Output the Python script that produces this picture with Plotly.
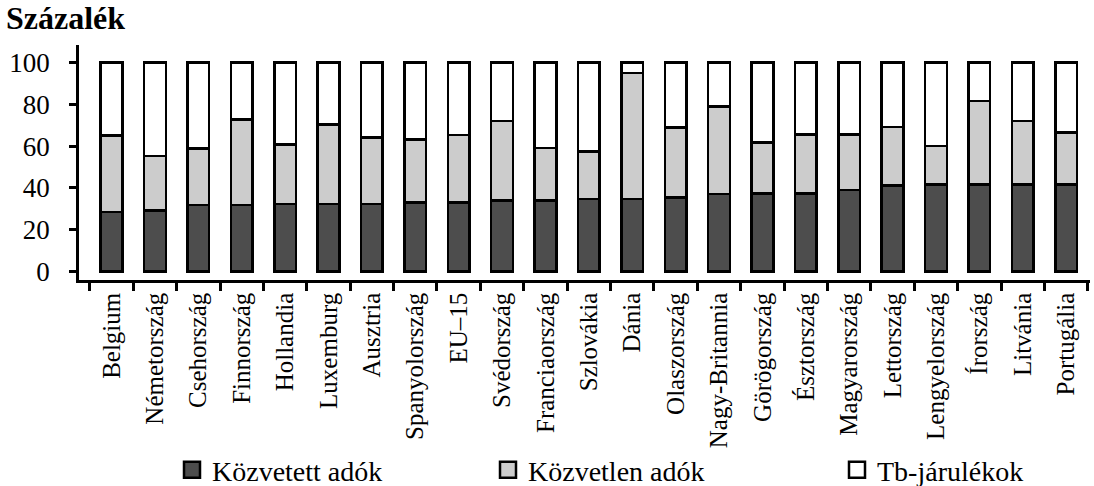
import plotly.graph_objects as go

orszagok = ["Belgium", "Németország", "Csehország", "Finnország", "Hollandia",
            "Luxemburg", "Ausztria", "Spanyolország", "EU–15", "Svédország",
            "Franciaország", "Szlovákia", "Dánia", "Olaszország", "Nagy-Britannia",
            "Görögország", "Észtország", "Magyarország", "Lettország",
            "Lengyelország", "Írország", "Litvánia", "Portugália"]

kozvetett_adok = [28.4, 29.1, 31.9, 31.9, 32.3, 32.3, 32.3, 33.1, 33.1, 34.1, 34.1, 34.7,
                  34.7, 35.5, 37.0, 37.4, 37.4, 39.0, 41.1, 41.7, 41.7, 41.7, 41.7]
kozvetlen_adok = [36.6, 26.2, 27.0, 40.9, 28.5, 38.1, 31.7, 30.1, 32.2, 37.9, 25.1, 22.6,
                  60.3, 33.3, 41.8, 24.2, 28.2, 26.6, 27.9, 18.3, 39.8, 30.3, 24.9]
tb_jarulekok = [35.0, 44.7, 41.1, 27.2, 39.2, 29.6, 36.0, 36.8, 34.7, 28.0, 40.8, 42.7,
                5.0, 31.2, 21.2, 38.4, 34.4, 34.4, 31.0, 40.0, 18.5, 28.0, 33.4]

y_ticks = [0, 20, 40, 60, 80, 100]

FONT = "Liberation Serif"
series = [
    ("Közvetett adók", kozvetett_adok, "#4d4d4d", "legend"),
    ("Közvetlen adók", kozvetlen_adok, "#cccccc", "legend2"),
    ("Tb-járulékok", tb_jarulekok, "#ffffff", "legend3"),
]

fig = go.Figure()
for name, vals, col, leg in series:
    fig.add_trace(go.Bar(
        x=orszagok, y=vals, name=name, showlegend=False,
        marker=dict(color=col, line=dict(color="black", width=2.5)),
    ))
    # legend-only marker (larger square symbol, like the reference key)
    fig.add_trace(go.Scatter(
        x=[None], y=[None], mode="markers", name=name, legend=leg,
        marker=dict(symbol="square", size=16, color=col,
                    line=dict(color="black", width=2.5)),
    ))

L, R, T, B = 79, 4, 45, 206
W, H = 1094, 486
plot_w = W - L - R
# text starts of the reference key, in pixels from the plot's left edge
key_text_px = [212 - L, 528 - L, 877 - L]
leg_common = dict(
    orientation="h", xanchor="left",
    yref="container", y=(H - 470) / H, yanchor="middle",
    font=dict(family=FONT, size=28, color="black"),
    bgcolor="rgba(0,0,0,0)", borderwidth=0,
    itemclick=False, itemdoubleclick=False, itemsizing="trace",
)

fig.update_layout(
    template="none",
    barmode="stack",
    bargap=0.5,
    width=W, height=H,
    margin=dict(l=L, r=R, t=T, b=B, autoexpand=False),
    paper_bgcolor="white", plot_bgcolor="white",
    font=dict(family=FONT, color="black", size=22),
    showlegend=True,
    legend=dict(x=(key_text_px[0] - 40) / plot_w, **leg_common),
    legend2=dict(x=(key_text_px[1] - 40) / plot_w, **leg_common),
    legend3=dict(x=(key_text_px[2] - 40) / plot_w, **leg_common),
    annotations=[dict(
        text="<b>Százalék</b>", xref="paper", yref="paper",
        x=(4 - L) / plot_w, y=1.115, xanchor="left", yanchor="middle",
        showarrow=False, font=dict(family=FONT, size=32, color="black"),
    )],
)

fig.update_xaxes(
    type="category", range=[-0.75, 22.55], automargin=False,
    showline=True, linecolor="black", linewidth=2.5,
    ticks="outside", tickson="boundaries", ticklen=8, tickwidth=2.5, tickcolor="black",
    tickangle=-90, tickfont=dict(family=FONT, size=25, color="black"),
    showgrid=False, zeroline=False,
)
fig.update_yaxes(
    range=[-4, 108.3], tickvals=y_ticks, automargin=False,
    showline=True, linecolor="black", linewidth=2.5,
    ticks="outside", ticklen=7, tickwidth=2.5, tickcolor="black",
    tickfont=dict(family=FONT, size=27, color="black"),
    ticklabelstandoff=14,
    showgrid=False, zeroline=False,
)

fig.write_html("out.html", config={"displayModeBar": False},
               post_script="document.body.style.margin='0px';")
